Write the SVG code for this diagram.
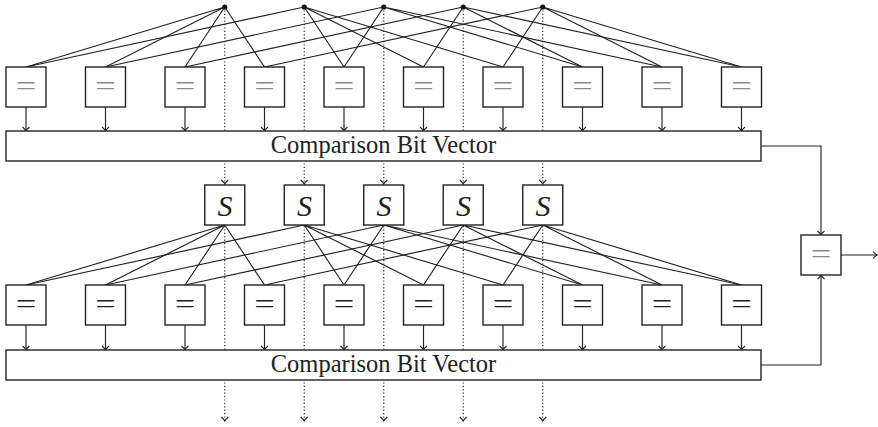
<svg xmlns="http://www.w3.org/2000/svg" width="878" height="427" viewBox="0 0 878 427">
  <style>
    .box { fill: #fff; stroke: #222; stroke-width: 1.4; }
    .bar { fill: #fff; stroke: #222; stroke-width: 1.4; }
    .wire { fill: none; stroke: #222; stroke-width: 1.15; }
    .dot-line { fill: none; stroke: #222; stroke-width: 1.2; stroke-dasharray: 1.2 2.2; }
    .eq { font-family: "Liberation Serif", serif; font-size: 28px; text-anchor: middle; }
    .eq-gray { fill: #8a8a8a; }
    .eq-dark { fill: #222; }
    .label { font-family: "Liberation Serif", serif; font-size: 24.5px; text-anchor: middle; fill: #222; }
    .sym { font-family: "Liberation Serif", serif; font-style: italic; font-size: 30px; text-anchor: middle; fill: #222; }
  </style>
  <defs>
    <marker id="tip" viewBox="-6 -6 8 12" refX="0" refY="0" markerWidth="8" markerHeight="12" orient="auto" markerUnits="userSpaceOnUse">
      <path d="M-4,-3.5 Q-1.6,-0.7 0,0 Q-1.6,0.7 -4,3.5" fill="none" stroke="#222" stroke-width="1.1" stroke-dasharray="none"/>
    </marker>
  </defs>

  <!-- connectors -->
  <g id="connectors">
    <!-- item sources fanning out to the upper comparators (all pairs) -->
    <g id="fan-top" class="wire">
      <path d="M224.75,7 L26,67 M224.75,7 L105.5,67 M224.75,7 L185,67 M224.75,7 L264.5,67"/>
      <path d="M304.25,7 L26,67 M304.25,7 L344,67 M304.25,7 L423.5,67 M304.25,7 L503,67"/>
      <path d="M383.75,7 L105.5,67 M383.75,7 L344,67 M383.75,7 L582.5,67 M383.75,7 L662,67"/>
      <path d="M463.25,7 L185,67 M463.25,7 L423.5,67 M463.25,7 L582.5,67 M463.25,7 L741.5,67"/>
      <path d="M542.75,7 L264.5,67 M542.75,7 L503,67 M542.75,7 L662,67 M542.75,7 L741.5,67"/>
    </g>
    <!-- S outputs fanning out to the lower comparators -->
    <g id="fan-bottom" class="wire">
      <path d="M224.75,225 L26,285 M224.75,225 L105.5,285 M224.75,225 L185,285 M224.75,225 L264.5,285"/>
      <path d="M304.25,225 L26,285 M304.25,225 L344,285 M304.25,225 L423.5,285 M304.25,225 L503,285"/>
      <path d="M383.75,225 L105.5,285 M383.75,225 L344,285 M383.75,225 L582.5,285 M383.75,225 L662,285"/>
      <path d="M463.25,225 L185,285 M463.25,225 L423.5,285 M463.25,225 L582.5,285 M463.25,225 L741.5,285"/>
      <path d="M542.75,225 L264.5,285 M542.75,225 L503,285 M542.75,225 L662,285 M542.75,225 L741.5,285"/>
    </g>
    <!-- dotted pass-through lines -->
    <g id="pass-through" class="dot-line">
      <path d="M224.75,7 V184" marker-end="url(#tip)"/>
      <path d="M304.25,7 V184" marker-end="url(#tip)"/>
      <path d="M383.75,7 V184" marker-end="url(#tip)"/>
      <path d="M463.25,7 V184" marker-end="url(#tip)"/>
      <path d="M542.75,7 V184" marker-end="url(#tip)"/>
      <path d="M224.75,226 V421" marker-end="url(#tip)"/>
      <path d="M304.25,226 V421" marker-end="url(#tip)"/>
      <path d="M383.75,226 V421" marker-end="url(#tip)"/>
      <path d="M463.25,226 V421" marker-end="url(#tip)"/>
      <path d="M542.75,226 V421" marker-end="url(#tip)"/>
    </g>
    <!-- comparator outputs into the bit vectors -->
    <g id="to-vector" class="wire">
      <path d="M26,107 V131" marker-end="url(#tip)"/>
      <path d="M105.5,107 V131" marker-end="url(#tip)"/>
      <path d="M185,107 V131" marker-end="url(#tip)"/>
      <path d="M264.5,107 V131" marker-end="url(#tip)"/>
      <path d="M344,107 V131" marker-end="url(#tip)"/>
      <path d="M423.5,107 V131" marker-end="url(#tip)"/>
      <path d="M503,107 V131" marker-end="url(#tip)"/>
      <path d="M582.5,107 V131" marker-end="url(#tip)"/>
      <path d="M662,107 V131" marker-end="url(#tip)"/>
      <path d="M741.5,107 V131" marker-end="url(#tip)"/>
      <path d="M26,325 V350" marker-end="url(#tip)"/>
      <path d="M105.5,325 V350" marker-end="url(#tip)"/>
      <path d="M185,325 V350" marker-end="url(#tip)"/>
      <path d="M264.5,325 V350" marker-end="url(#tip)"/>
      <path d="M344,325 V350" marker-end="url(#tip)"/>
      <path d="M423.5,325 V350" marker-end="url(#tip)"/>
      <path d="M503,325 V350" marker-end="url(#tip)"/>
      <path d="M582.5,325 V350" marker-end="url(#tip)"/>
      <path d="M662,325 V350" marker-end="url(#tip)"/>
      <path d="M741.5,325 V350" marker-end="url(#tip)"/>
    </g>
    <!-- vectors into the final comparator -->
    <g id="to-final" class="wire">
      <path d="M761,146 H821 V235" marker-end="url(#tip)"/>
      <path d="M761,365 H821 V275" marker-end="url(#tip)"/>
      <path d="M841,255 H877" marker-end="url(#tip)"/>
    </g>
  </g>

  <!-- item sources -->
  <g id="sources" fill="#111">
    <circle cx="224.75" cy="7" r="2.6"/>
    <circle cx="304.25" cy="7" r="2.6"/>
    <circle cx="383.75" cy="7" r="2.6"/>
    <circle cx="463.25" cy="7" r="2.6"/>
    <circle cx="542.75" cy="7" r="2.6"/>
  </g>

  <!-- upper comparators; the "=" is widened to a math-style equals sign -->
  <g id="cmp-top-0"><rect class="box" x="6" y="67" width="40" height="40"/><text class="eq eq-gray" transform="translate(26,95) scale(1.3,1)">=</text></g>
  <g id="cmp-top-1"><rect class="box" x="85.5" y="67" width="40" height="40"/><text class="eq eq-gray" transform="translate(105.5,95) scale(1.3,1)">=</text></g>
  <g id="cmp-top-2"><rect class="box" x="165" y="67" width="40" height="40"/><text class="eq eq-gray" transform="translate(185,95) scale(1.3,1)">=</text></g>
  <g id="cmp-top-3"><rect class="box" x="244.5" y="67" width="40" height="40"/><text class="eq eq-gray" transform="translate(264.5,95) scale(1.3,1)">=</text></g>
  <g id="cmp-top-4"><rect class="box" x="324" y="67" width="40" height="40"/><text class="eq eq-gray" transform="translate(344,95) scale(1.3,1)">=</text></g>
  <g id="cmp-top-5"><rect class="box" x="403.5" y="67" width="40" height="40"/><text class="eq eq-gray" transform="translate(423.5,95) scale(1.3,1)">=</text></g>
  <g id="cmp-top-6"><rect class="box" x="483" y="67" width="40" height="40"/><text class="eq eq-gray" transform="translate(503,95) scale(1.3,1)">=</text></g>
  <g id="cmp-top-7"><rect class="box" x="562.5" y="67" width="40" height="40"/><text class="eq eq-gray" transform="translate(582.5,95) scale(1.3,1)">=</text></g>
  <g id="cmp-top-8"><rect class="box" x="642" y="67" width="40" height="40"/><text class="eq eq-gray" transform="translate(662,95) scale(1.3,1)">=</text></g>
  <g id="cmp-top-9"><rect class="box" x="721.5" y="67" width="40" height="40"/><text class="eq eq-gray" transform="translate(741.5,95) scale(1.3,1)">=</text></g>

  <!-- upper bit vector -->
  <g id="vector-top">
    <rect class="bar" x="6" y="131" width="755" height="30"/>
    <text class="label" x="383.5" y="153">Comparison Bit Vector</text>
  </g>

  <!-- S blocks -->
  <g id="s-0"><rect class="box" x="204.75" y="185" width="40" height="40"/><text class="sym" x="225" y="216">S</text></g>
  <g id="s-1"><rect class="box" x="284.25" y="185" width="40" height="40"/><text class="sym" x="304.5" y="216">S</text></g>
  <g id="s-2"><rect class="box" x="363.75" y="185" width="40" height="40"/><text class="sym" x="384" y="216">S</text></g>
  <g id="s-3"><rect class="box" x="443.25" y="185" width="40" height="40"/><text class="sym" x="463.5" y="216">S</text></g>
  <g id="s-4"><rect class="box" x="522.75" y="185" width="40" height="40"/><text class="sym" x="543" y="216">S</text></g>

  <!-- lower comparators -->
  <g id="cmp-bot-0"><rect class="box" x="6" y="285" width="40" height="40"/><text class="eq eq-dark" transform="translate(26,313) scale(1.3,1)">=</text></g>
  <g id="cmp-bot-1"><rect class="box" x="85.5" y="285" width="40" height="40"/><text class="eq eq-dark" transform="translate(105.5,313) scale(1.3,1)">=</text></g>
  <g id="cmp-bot-2"><rect class="box" x="165" y="285" width="40" height="40"/><text class="eq eq-dark" transform="translate(185,313) scale(1.3,1)">=</text></g>
  <g id="cmp-bot-3"><rect class="box" x="244.5" y="285" width="40" height="40"/><text class="eq eq-dark" transform="translate(264.5,313) scale(1.3,1)">=</text></g>
  <g id="cmp-bot-4"><rect class="box" x="324" y="285" width="40" height="40"/><text class="eq eq-dark" transform="translate(344,313) scale(1.3,1)">=</text></g>
  <g id="cmp-bot-5"><rect class="box" x="403.5" y="285" width="40" height="40"/><text class="eq eq-dark" transform="translate(423.5,313) scale(1.3,1)">=</text></g>
  <g id="cmp-bot-6"><rect class="box" x="483" y="285" width="40" height="40"/><text class="eq eq-dark" transform="translate(503,313) scale(1.3,1)">=</text></g>
  <g id="cmp-bot-7"><rect class="box" x="562.5" y="285" width="40" height="40"/><text class="eq eq-dark" transform="translate(582.5,313) scale(1.3,1)">=</text></g>
  <g id="cmp-bot-8"><rect class="box" x="642" y="285" width="40" height="40"/><text class="eq eq-dark" transform="translate(662,313) scale(1.3,1)">=</text></g>
  <g id="cmp-bot-9"><rect class="box" x="721.5" y="285" width="40" height="40"/><text class="eq eq-dark" transform="translate(741.5,313) scale(1.3,1)">=</text></g>

  <!-- lower bit vector -->
  <g id="vector-bottom">
    <rect class="bar" x="6" y="350" width="755" height="30"/>
    <text class="label" x="383.5" y="372">Comparison Bit Vector</text>
  </g>

  <!-- final comparator -->
  <g id="cmp-final"><rect class="box" x="801" y="235" width="40" height="40"/><text class="eq eq-gray" transform="translate(821,263) scale(1.3,1)">=</text></g>
</svg>
